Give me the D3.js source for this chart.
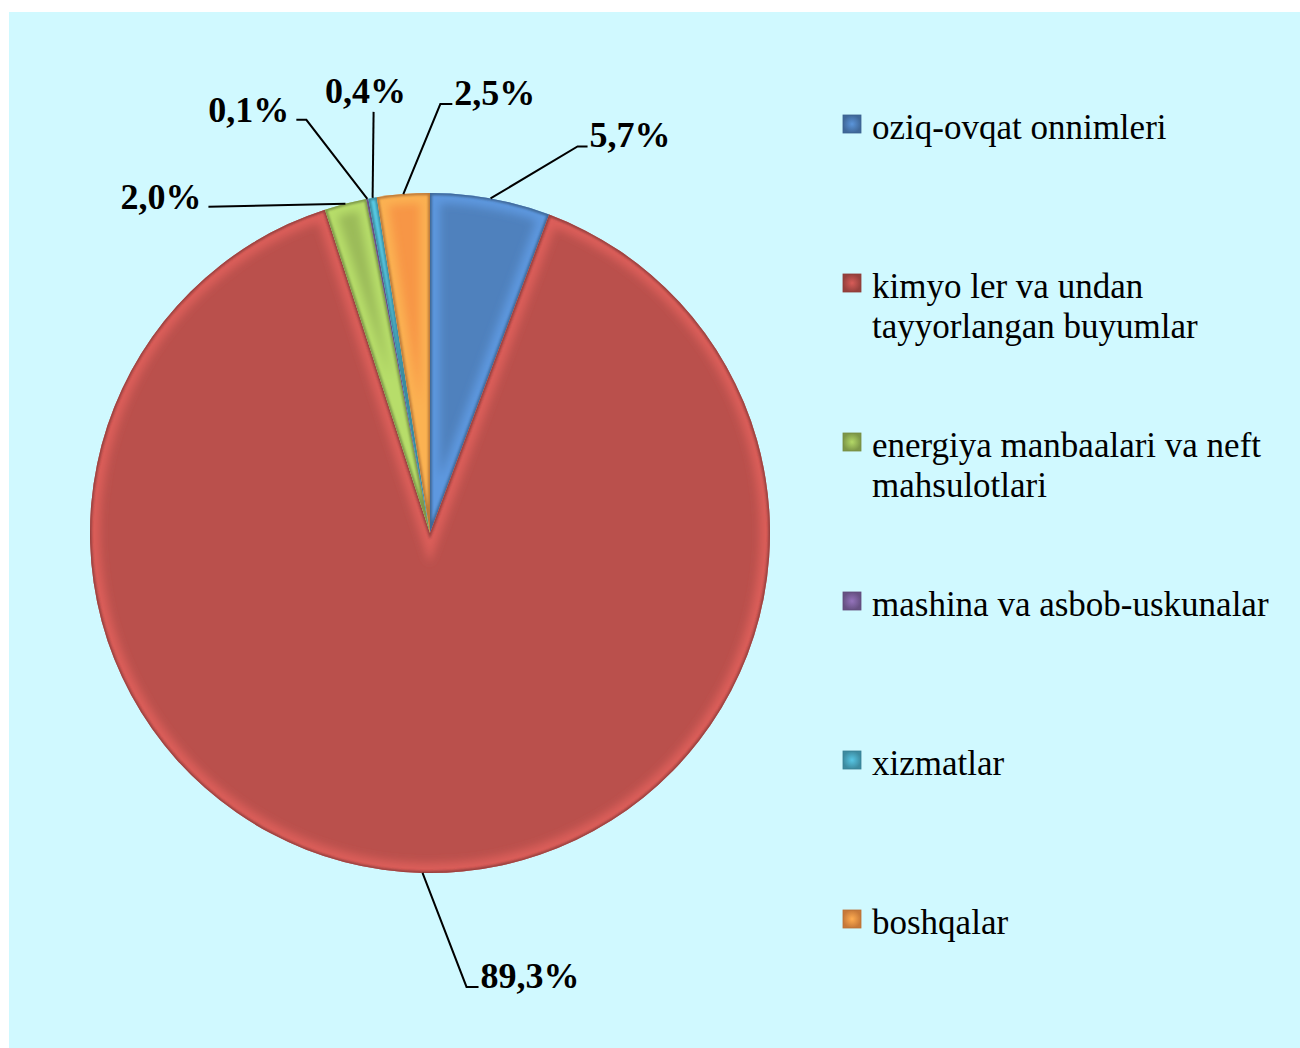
<!DOCTYPE html>
<html>
<head>
<meta charset="utf-8">
<script src="https://cdn.jsdelivr.net/npm/d3@7"></script>
<style>
    body { margin: 0; background: #fff; }
    svg { display: block; }
</style>
</head>
<body>
<svg id="chart" width="1300" height="1048"></svg>
<script>
// data
const categories = [
    "oziq-ovqat onnimleri",
    "kimyo ler va undan tayyorlangan buyumlar",
    "energiya manbaalari va neft mahsulotlari",
    "mashina va asbob-uskunalar",
    "xizmatlar",
    "boshqalar",
]
const legendLines = [
    ["oziq-ovqat onnimleri"],
    ["kimyo ler va undan", "tayyorlangan buyumlar"],
    ["energiya manbaalari va neft", "mahsulotlari"],
    ["mashina va asbob-uskunalar"],
    ["xizmatlar"],
    ["boshqalar"],
]
const values = [5.7, 89.3, 2.0, 0.1, 0.4, 2.5]
const valueLabels = ["5,7%", "89,3%", "2,0%", "0,1%", "0,4%", "2,5%"]

// slice order around the pie (clockwise from 12 o'clock)
const sliceOrder = [0, 1, 2, 3, 4, 5]
const colors = ["#4F81BD", "#BA504C", "#9BBB59", "#8064A2", "#4BACC6", "#F79646"]

const FONT = '"Liberation Serif", "Times New Roman", Times, serif'
const W = 1300, H = 1048
const cx = 430, cy = 533, R = 340

const svg = d3.select("#chart")

svg.append("rect")
    .attr("x", 9).attr("y", 12)
    .attr("width", W - 9).attr("height", H - 12)
    .attr("fill", "#D0F9FF")

const defs = svg.append("defs")

const soft = defs.append("filter").attr("id", "soft")
    .attr("x", "-10%").attr("y", "-10%").attr("width", "120%").attr("height", "120%")
soft.append("feGaussianBlur").attr("stdDeviation", 4)

const thin = defs.append("filter").attr("id", "thin")
    .attr("x", "-10%").attr("y", "-10%").attr("width", "120%").attr("height", "120%")
thin.append("feGaussianBlur").attr("stdDeviation", 1.2)

colors.forEach((c, i) => {
    const g = defs.append("radialGradient").attr("id", "mk" + i)
    g.append("stop").attr("offset", 0).attr("stop-color", d3.color(c).brighter(0.4))
    g.append("stop").attr("offset", 1).attr("stop-color", d3.color(c).darker(0.6))
})

const pie = d3.pie().sort(null).value(i => values[i])
const arcs = pie(sliceOrder)
const arc = d3.arc().innerRadius(0).outerRadius(R)

const g = svg.append("g").attr("transform", `translate(${cx},${cy})`)

arcs.forEach(d => {
    const i = d.data
    defs.append("clipPath").attr("id", "clip" + i)
        .append("path").attr("d", arc(d))
        .attr("transform", `translate(${cx},${cy})`)
})

const slice = g.selectAll("g.slice")
    .data(arcs)
    .enter()
    .append("g")
    .attr("class", "slice")

slice.append("path")
    .attr("d", arc)
    .attr("fill", d => colors[d.data])

// bevel: light band just inside the edges, dark line on the edge
const bev = slice.append("g")
    .attr("clip-path", d => `url(#clip${d.data})`)
    .attr("transform", `translate(${-cx},${-cy})`)

bev.append("path")
    .attr("d", arc)
    .attr("transform", `translate(${cx},${cy})`)
    .attr("fill", "none")
    .attr("stroke", d => d3.color(colors[d.data]).brighter(0.8))
    .attr("stroke-opacity", 0.55)
    .attr("stroke-width", 20)
    .attr("filter", "url(#soft)")

bev.append("path")
    .attr("d", arc)
    .attr("transform", `translate(${cx},${cy})`)
    .attr("fill", "none")
    .attr("stroke", d => d3.color(colors[d.data]).darker(1.2))
    .attr("stroke-opacity", 0.7)
    .attr("stroke-width", 4)
    .attr("filter", "url(#thin)")

// leader lines + labels; offsets of the elbow from the slice edge (Excel placement)
const labelLayout = [
    { dx: 87, dy: -52, tail: 10, side: "right" },
    { dx: 44, dy: 114, tail: 12, side: "right" },
    { dx: -137, dy: 3, tail: 0, side: "left" },
    { dx: -61, dy: -79, tail: 10, side: "left" },
    { dx: 1, dy: -86, tail: 0, side: "top" },
    { dx: 37, dy: -90, tail: 12, side: "right" },
]

const labels = svg.append("g")
arcs.forEach(d => {
    const i = d.data
    const L = labelLayout[i]
    const mid = (d.startAngle + d.endAngle) / 2
    const sx = cx + R * Math.sin(mid), sy = cy - R * Math.cos(mid)
    const ex = sx + L.dx, ey = sy + L.dy
    let tx = ex, pts = [[sx, sy], [ex, ey]]
    if (L.side == "right") { tx = ex + L.tail; pts.push([tx, ey]) }
    if (L.side == "left") { tx = ex - L.tail; pts.push([tx, ey]) }

    labels.append("path")
        .attr("d", d3.line()(pts))
        .attr("fill", "none")
        .attr("stroke", "#000")
        .attr("stroke-width", 2)

    const t = labels.append("text")
        .text(valueLabels[i])
        .style("font-family", FONT)
        .attr("font-weight", "bold")
        .attr("font-size", 36)
        .attr("fill", "#000")
    if (L.side == "right") t.attr("x", tx + 2).attr("y", ey + 1).attr("text-anchor", "start")
    if (L.side == "left") t.attr("x", tx - 7).attr("y", ey + 2).attr("text-anchor", "end")
    if (L.side == "top") t.attr("x", ex - 8).attr("y", ey - 9).attr("text-anchor", "middle")
})

// legend
const legend = svg.append("g").attr("transform", "translate(843,139)")
const item = legend.selectAll("g")
    .data(categories)
    .enter()
    .append("g")
    .attr("transform", (d, i) => `translate(0,${i * 159})`)

item.append("rect")
    .attr("x", 0).attr("y", -24)
    .attr("width", 18).attr("height", 18)
    .attr("fill", (d, i) => `url(#mk${i})`)
    .attr("stroke", (d, i) => d3.color(colors[i]).darker(0.8))
    .attr("stroke-width", 0.8)

item.append("text")
    .style("font-family", FONT)
    .attr("font-size", 35)
    .attr("fill", "#000")
    .selectAll("tspan")
    .data((d, i) => legendLines[i])
    .enter()
    .append("tspan")
    .attr("x", 29)
    .attr("y", (d, j) => j * 40)
    .text(d => d)
</script>
</body>
</html>
